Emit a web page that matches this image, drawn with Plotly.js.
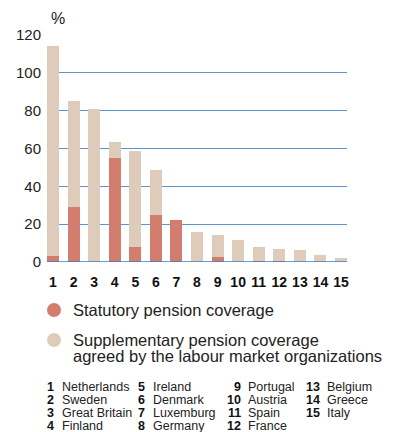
<!DOCTYPE html>
<html>
<head>
<meta charset="utf-8">
<script src="https://cdn.plot.ly/plotly-3.0.1.min.js"></script>
<style>
html,body{margin:0;padding:0;background:#fff;}
#chart{width:407px;height:432px;}
</style>
</head>
<body>
<div id="chart"></div>
<script>
// ---- data ----
var categories = [1,2,3,4,5,6,7,8,9,10,11,12,13,14,15];
var statutory = [3, 29, 0, 55, 8, 25, 22, 0, 2.5, 0, 0.5, 0.5, 0, 0, 0];
var totalCoverage = [114, 85, 81, 63.5, 58.7, 48.7, 22, 16, 14.3, 11.6, 7.9, 6.9, 6.3, 3.7, 2.1];
var supplementary = totalCoverage.map(function(t, i){ return Math.max(0, +(t - statutory[i]).toFixed(1)); });
var seriesNames = ["Statutory pension coverage", "Supplementary pension coverage<br>agreed by the labour market organizations"];
var seriesColors = ["#d27d6d", "#dfcbba"];
var yTicks = [0, 20, 40, 60, 80, 100, 120];
var countryNums = ["1","2","3","4","5","6","7","8","9","10","11","12","13","14","15"];
var countryNames = ["Netherlands","Sweden","Great Britain","Finland","Ireland","Denmark","Luxemburg","Germany","Portugal","Austria","Spain","France","Belgium","Greece","Italy"];

var FONT = "Liberation Sans, Arial, Helvetica, sans-serif";
var W = 407, H = 432;
var mL = 47, mR = 60, mT = 35, mB = 170;
var plotH = H - mT - mB;
function py(px){ return 1 - (px - mT) / plotH; } // pixel y -> paper y
function pxp(px){ return (px - mL) / (W - mL - mR); }

var traces = [
  {type:"bar", x:categories, y:statutory, marker:{color:seriesColors[0]}, width:0.58, name:seriesNames[0], hoverinfo:"y"},
  {type:"bar", x:categories, y:supplementary, marker:{color:seriesColors[1]}, width:0.58, name:seriesNames[1], hoverinfo:"y"}
];

var annotations = [];
var shapes = [];
// % unit label
annotations.push({xref:"paper", yref:"paper", x:pxp(49), y:py(19), xanchor:"left", yanchor:"middle", text:"%", showarrow:false, font:{family:FONT, size:16, color:"#222"}});

// legend entries
var legY = [[310],[339.5,355.5]];
var circY = [310, 340];
seriesNames.forEach(function(n, i){
  shapes.push({type:"circle", xref:"paper", yref:"paper", x0:pxp(47), x1:pxp(61), y0:py(circY[i]+7), y1:py(circY[i]-7), fillcolor:seriesColors[i], line:{width:0}});
  var lines = n.split("<br>");
  lines.forEach(function(l, j){
    annotations.push({xref:"paper", yref:"paper", x:pxp(71), y:py(legY[i][j]), xanchor:"left", yanchor:"middle", text:l, showarrow:false, font:{family:FONT, size:16.5, color:"#222"}});
  });
});

// country key
var colNumRight = [56, 147, 243, 322];
var colNameLeft = [60, 151, 246, 325];
var rowY = [386.5, 399.5, 412.5, 425.5];
countryNames.forEach(function(nm, k){
  var c = Math.floor(k / 4), r = k % 4;
  annotations.push({xref:"paper", yref:"paper", x:pxp(colNumRight[c]), y:py(rowY[r]), xanchor:"right", yanchor:"middle", text:"<b>"+countryNums[k]+"</b>", showarrow:false, font:{family:FONT, size:12.5, color:"#111"}});
  annotations.push({xref:"paper", yref:"paper", x:pxp(colNameLeft[c]), y:py(rowY[r]), xanchor:"left", yanchor:"middle", text:nm, showarrow:false, font:{family:FONT, size:12.5, color:"#222"}});
});

var layout = {
  width:W, height:H,
  margin:{l:mL, r:mR, t:mT, b:mB, pad:0},
  paper_bgcolor:"#fff", plot_bgcolor:"#fff",
  barmode:"stack", showlegend:false,
  font:{family:FONT, color:"#222"},
  xaxis:{range:[0.71, 15.29], tickmode:"array", tickvals:categories, ticktext:categories.map(String),
         showgrid:false, zeroline:false, showline:false, ticks:"", ticklen:0, ticklabelstandoff:10,
         tickfont:{family:FONT, size:14, color:"#111", weight:"bold"}, fixedrange:true},
  yaxis:{range:[0, 120], tickmode:"array", tickvals:yTicks, ticktext:yTicks.map(String),
         showgrid:true, gridcolor:"#5b93cf", gridwidth:1.3, zeroline:false, showline:false,
         ticks:"", ticklabelstandoff:5, tickfont:{family:FONT, size:15, color:"#222"}, fixedrange:true},
  shapes:shapes.concat([{type:"line", xref:"paper", yref:"y", x0:0, x1:1, y0:0, y1:0, line:{color:"#3d7cc2", width:1.5}}]),
  annotations:annotations
};

Plotly.newPlot("chart", traces, layout, {displayModeBar:false, staticPlot:true});
</script>
</body>
</html>
